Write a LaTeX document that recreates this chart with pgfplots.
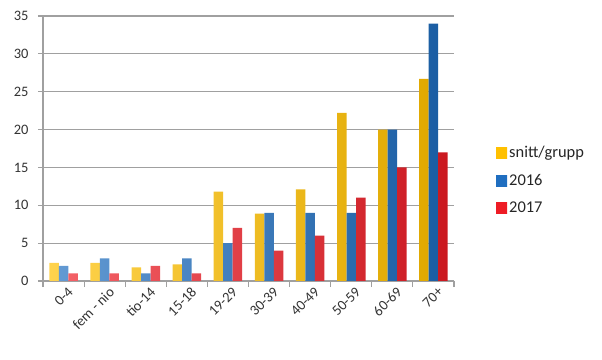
\documentclass[border=0pt]{standalone}
\usepackage{fontspec}
\setmainfont{Carlito}
\usepackage{pgfplots}
\pgfplotsset{compat=1.18}
\definecolor{cy}{HTML}{FFC000}
\definecolor{cb}{HTML}{1F6EC0}
\definecolor{cr}{HTML}{EE1C25}
\definecolor{gr}{HTML}{A0A0A0}
\begin{document}
\begin{tikzpicture}
\path (-43bp,-79bp) rectangle (559bp,281bp);
\begin{axis}[
  at={(0,0)}, anchor=south west,
  scale only axis, width=411bp, height=265bp,
  xmin=-0.5, xmax=9.5, ymin=0, ymax=35,
  ybar=0pt, bar width=9.5bp,
  axis x line*=bottom, axis y line*=left,
  axis line style={gr, line width=1.2pt, -},
  ytick={0,5,...,35},
  ymajorgrids, grid style={gr, line width=1.2pt},
  xtick={0,...,9},
  xticklabels={0-4,fem - nio,tio-14,15-18,19-29,30-39,40-49,50-59,60-69,70+},
  x tick label style={rotate=45, anchor=north east, inner sep=0.5pt, xshift=3bp, yshift=-2bp},
  y tick label style={xshift=-6bp},
  minor xtick={-0.5,0.5,...,9.5},
  major x tick style={draw=none},
  minor x tick style={gr, line width=1.2pt},
  y tick style={gr, line width=1.2pt},
  tick align=outside, major tick length=5bp, minor tick length=6bp,
  ticklabel style={font=\fontsize{14.5}{16}\selectfont, text=black!80},
  /pgf/number format/assume math mode=true,
  legend style={at={(1.095,0.38)}, anchor=west, draw=none, fill=none,
    font=\fontsize{16.5}{18}\selectfont, row sep=11bp, text=black!85},
  legend cell align=left,
]
\addplot[left color=cy!70!white, middle color=cy, right color=cy!88!black, draw=none,
  legend image code/.code={\path[left color=cy, middle color=cy, right color=cy] (0bp,-5.5bp) rectangle (11bp,5.5bp);}]
  coordinates {(0,2.4)(1,2.4)(2,1.8)(3,2.2)(4,11.8)(5,8.9)(6,12.1)(7,22.2)(8,20)(9,26.7)};
\addplot[left color=cb!70!white, middle color=cb, right color=cb!85!black, draw=none,
  legend image code/.code={\path[left color=cb, middle color=cb, right color=cb] (0bp,-5.5bp) rectangle (11bp,5.5bp);}]
  coordinates {(0,2)(1,3)(2,1)(3,3)(4,5)(5,9)(6,9)(7,9)(8,20)(9,34)};
\addplot[left color=cr!70!white, middle color=cr, right color=cr!85!black, draw=none,
  legend image code/.code={\path[left color=cr, middle color=cr, right color=cr] (0bp,-5.5bp) rectangle (11bp,5.5bp);}]
  coordinates {(0,1)(1,1)(2,2)(3,1)(4,7)(5,4)(6,6)(7,11)(8,15)(9,17)};
\legend{snitt/grupp,2016,2017}
\end{axis}
\end{tikzpicture}
\end{document}
